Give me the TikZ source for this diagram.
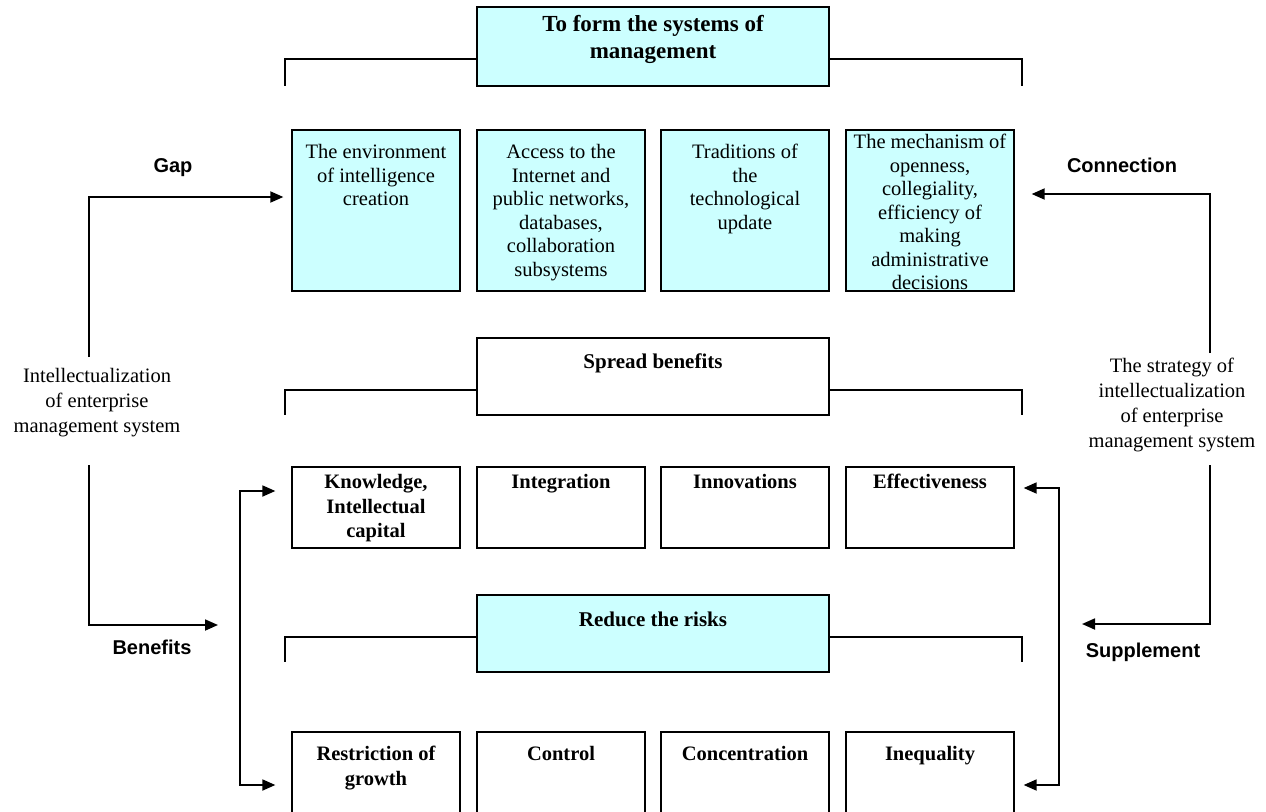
\documentclass[tikz,border=0pt]{standalone}
\usepackage{fontspec}
\setmainfont{Liberation Serif}
\newfontfamily\labelfont{Liberation Sans}
\usetikzlibrary{arrows.meta,positioning}
\definecolor{lightcyan}{HTML}{CCFFFF}

\begin{document}
\begin{tikzpicture}[x=1pt, y=-1pt, >={Triangle[length=13pt,width=11pt]},
    cell/.style={draw, line width=1.3pt, minimum width=168pt, inner sep=0pt},
    head/.style={draw, line width=1.3pt, minimum width=352pt, minimum height=77pt, inner sep=0pt},
    txt/.style={align=center, inner sep=0pt, font=\fontsize{20.5}{23.5}\selectfont},
    btxt/.style={align=center, inner sep=0pt, font=\fontsize{20.5}{24.5}\selectfont\bfseries},
    sidelbl/.style={inner sep=0pt, font=\labelfont\bfseries\fontsize{20}{24}\selectfont},
    conn/.style={->, line width=1.8pt}]
    \useasboundingbox (0,0) rectangle (1266,811);

    % three headers with their brackets
    \node[head, fill=lightcyan, minimum height=79pt] (h1) at (653,46.5) {};
    \node[btxt, font=\fontsize{23}{27}\selectfont\bfseries, below=9pt of h1.north] (h1t) {To form the systems of\\management};
    \node[head, fill=white] (h2) at (653,376.5) {};
    \node[btxt, font=\fontsize{21}{25}\selectfont\bfseries, below=16pt of h2.north] (h2t) {Spread benefits};
    \node[head, fill=lightcyan] (h3) at (653,633.5) {};
    \node[btxt, font=\fontsize{21}{25}\selectfont\bfseries, below=17pt of h3.north] (h3t) {Reduce the risks};
    \foreach \hd/\by/\bb in {h1/59/86, h2/390/415, h3/637/662} {
        \draw[line width=1.3pt] (\hd.west |- 0,\by) -| (285,\bb);
        \draw[line width=1.3pt] (\hd.east |- 0,\by) -| (1022,\bb);
    }

    % first row
    \foreach \i/\x/\off/\t in {1/376/15/{The environment\\of intelligence\\creation},
                              2/561/15/{Access to the\\Internet and\\public networks,\\databases,\\collaboration\\subsystems},
                              3/745/15/{Traditions of\\the\\technological\\update},
                              4/930/5/{The mechanism of\\openness,\\collegiality,\\efficiency of\\making\\administrative\\decisions}} {
        \node[cell, fill=lightcyan, minimum height=161pt] (r1c\i) at (\x,210.5) {};
        \node[txt, below=\off pt of r1c\i.north] (r1t\i) {\t};
    }

    % second row
    \foreach \i/\x/\t in {1/376/{Knowledge,\\Intellectual\\capital}, 2/561/Integration,
                          3/745/Innovations, 4/930/Effectiveness} {
        \node[cell, minimum height=81pt] (r2c\i) at (\x,507.5) {};
        \node[btxt, below=8pt of r2c\i.north] (r2t\i) {\t};
    }

    % third row
    \foreach \i/\x/\t in {1/376/{Restriction of\\growth}, 2/561/Control,
                          3/745/Concentration, 4/930/Inequality} {
        \node[cell, minimum height=81pt] (r3c\i) at (\x,772.5) {};
        \node[btxt, below=15pt of r3c\i.north] (r3t\i) {\t};
    }

    % side texts
    \node[txt, font=\fontsize{20.5}{25}\selectfont] (lt) at (97,403) {Intellectualization\\of enterprise\\management system};
    \node[txt, font=\fontsize{20.5}{24.7}\selectfont] (rt) at (1172,405) {The strategy of\\intellectualization\\of enterprise\\management system};
    \node[sidelbl] (gap) at (173,168) {Gap};
    \node[sidelbl] (ben) at (152,647) {Benefits};
    \node[sidelbl] (con) at (1122,165) {Connection};
    \node[sidelbl] (sup) at (1143,652) {Supplement};

    % arrows
    \coordinate (gapS) at (89,357);
    \draw[conn] (gapS) |- ([xshift=-8pt,yshift=13.5pt]r1c1.west);
    \coordinate (benS) at (89,465);
    \coordinate (benE) at (218,625);
    \draw[conn] (benS) |- (benE);
    \coordinate (conS) at (1210,353);
    \draw[conn] (conS) |- ([xshift=17pt,yshift=16.5pt]r1c4.east);
    \coordinate (supS) at (1210,465);
    \coordinate (supE) at (1082,624);
    \draw[conn] (supS) |- (supE);
    \draw[conn, <->] ([xshift=-16pt,yshift=16.5pt]r2c1.west) -- ++(-35,0) |- ([xshift=-16pt,yshift=-12.5pt]r3c1.west);
    \draw[conn, <->] ([xshift=9pt,yshift=19.5pt]r2c4.east) -- ++(35,0) |- ([xshift=9pt,yshift=-12.5pt]r3c4.east);
\end{tikzpicture}
\end{document}
